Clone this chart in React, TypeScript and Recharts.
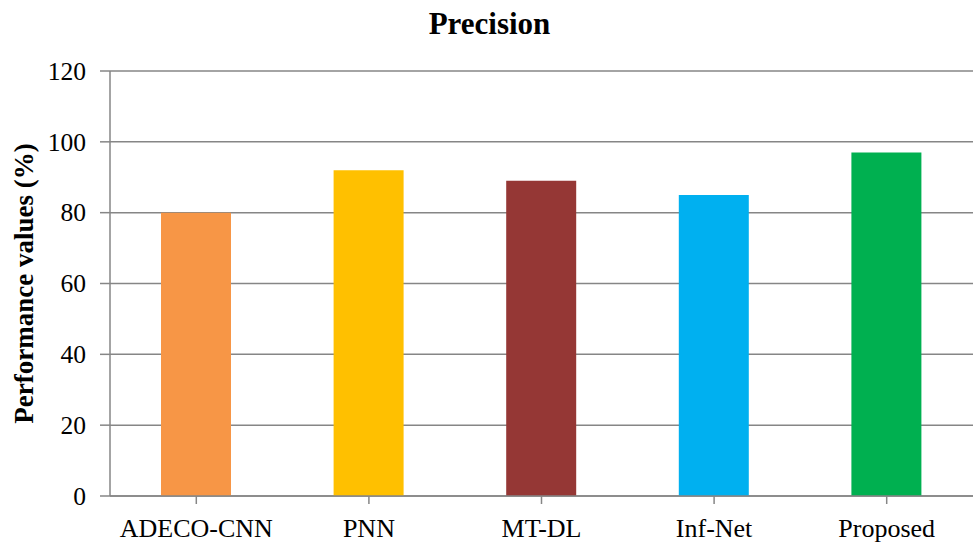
import { BarChart, Bar, XAxis, YAxis, CartesianGrid, Cell } from "recharts";

const methods = ["ADECO-CNN", "PNN", "MT-DL", "Inf-Net", "Proposed"];
const precision = [80, 92, 89, 85, 97];
const barColors = ["#F79646", "#FFC000", "#953735", "#00B0F0", "#00B050"];
const yTicks = [0, 20, 40, 60, 80, 100, 120];

const data = methods.map((name, i) => ({ name, value: precision[i] }));

const serif = "Liberation Serif, Times New Roman, serif";
const axisGray = "#868686";

// category names under the x axis
function CategoryTick(props: any) {
  const { x, y, payload } = props;
  return (
    <text x={x} y={y} dy="0.71em" textAnchor="middle" fontFamily={serif} fontSize={26} fill="#000">
      {payload.value}
    </text>
  );
}

// numeric ticks on the value axis
function ValueTick(props: any) {
  const { x, y, payload } = props;
  return (
    <text x={x} y={y} dy="0.34em" textAnchor="end" fontFamily={serif} fontSize={25.5} fill="#000">
      {payload.value}
    </text>
  );
}

// rotated title, centred on the plot height
function AxisTitle(props: any) {
  const vb = props.viewBox || {};
  const cx = 24;
  const cy = (vb.y ?? 71) + (vb.height ?? 425) / 2;
  return (
    <text
      x={cx}
      y={cy}
      dy="0.34em"
      transform={`rotate(-90, ${cx}, ${cy})`}
      textAnchor="middle"
      fontFamily={serif}
      fontWeight="bold"
      fontSize={27}
      fill="#000"
    >
      Performance values (%)
    </text>
  );
}

export default function App() {
  return (
    <div style={{ position: "absolute", left: 0, top: 0, width: 976, height: 543, background: "#fff", fontFamily: serif }}>
      <div
        style={{
          position: "absolute",
          top: 8,
          left: 0,
          width: 979,
          textAlign: "center",
          fontWeight: "bold",
          fontSize: 31,
          lineHeight: "31px",
          color: "#000",
        }}
      >
        Precision
      </div>
      <BarChart
        width={976}
        height={543}
        data={data}
        margin={{ top: 71, right: 3, bottom: 0, left: 0 }}
        barSize={70}
      >
        <CartesianGrid vertical={false} stroke={axisGray} strokeWidth={1.5} />
        <XAxis
          dataKey="name"
          height={47}
          stroke={axisGray}
          strokeWidth={1.5}
          tickSize={8}
          tickMargin={15}
          interval={0}
          tick={<CategoryTick />}
        />
        <YAxis
          width={110}
          domain={[0, 120]}
          ticks={yTicks}
          interval={0}
          stroke={axisGray}
          strokeWidth={1.5}
          tickSize={10}
          tickMargin={14}
          tick={<ValueTick />}
          label={<AxisTitle />}
        />
        <Bar dataKey="value" isAnimationActive={false}>
          {data.map((d, i) => (
            <Cell key={d.name} fill={barColors[i]} />
          ))}
        </Bar>
      </BarChart>
    </div>
  );
}
